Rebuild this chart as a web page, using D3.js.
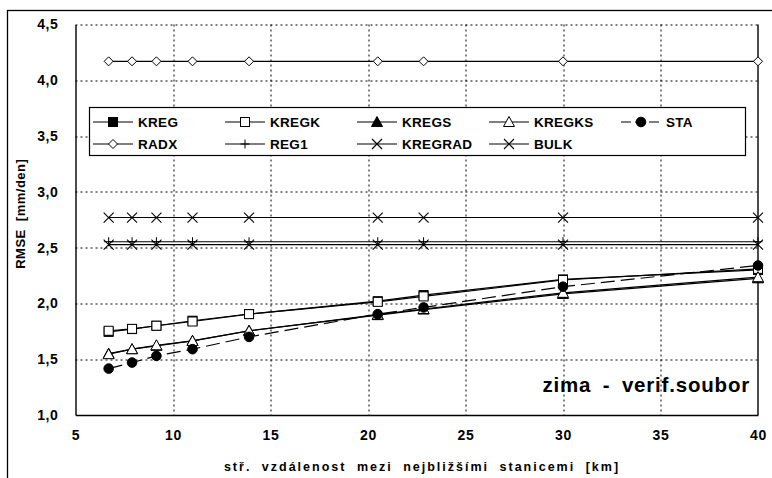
<!DOCTYPE html>
<html>
<head>
<meta charset="utf-8">
<script src="https://cdn.jsdelivr.net/npm/d3@7"></script>
<style>
  body { margin: 0; background: #fff; }
  svg { display: block; font-family: "Liberation Sans", Arial, sans-serif; }
  .tick text { font-weight: bold; }
</style>
</head>
<body>
<script>
// distances (km) and RMSE values
var dist = [6.7, 7.9, 9.15, 11.0, 13.9, 20.5, 22.85, 30, 40];
var kreg    = [1.745, 1.77, 1.80, 1.845, 1.905, 2.02, 2.075, 2.215, 2.30];
var kregk   = [1.755, 1.772, 1.80, 1.838, 1.904, 2.014, 2.063, 2.21, 2.31];
var kregs   = [1.55, 1.59, 1.62, 1.665, 1.755, 1.895, 1.945, 2.085, 2.225];
var kregks  = [1.545, 1.59, 1.625, 1.664, 1.754, 1.90, 1.95, 2.095, 2.235];
var sta     = [1.416, 1.47, 1.53, 1.59, 1.70, 1.904, 1.964, 2.15, 2.34];
var radx    = [4.17, 4.17, 4.17, 4.17, 4.17, 4.17, 4.17, 4.17, 4.17];
var reg1    = [2.553, 2.553, 2.553, 2.553, 2.553, 2.553, 2.553, 2.553, 2.553];
var kregrad = [2.527, 2.527, 2.527, 2.527, 2.527, 2.527, 2.527, 2.527, 2.527];
var bulk    = [2.77, 2.77, 2.77, 2.77, 2.77, 2.77, 2.77, 2.77, 2.77];

var xTicks = [5, 10, 15, 20, 25, 30, 35, 40];
var yTicks = [1.0, 1.5, 2.0, 2.5, 3.0, 3.5, 4.0, 4.5];

var series = [
  {name: "KREG",    values: kreg,    marker: "square",   fill: "#000", dash: null},
  {name: "KREGK",   values: kregk,   marker: "square",   fill: "#fff", dash: null},
  {name: "KREGS",   values: kregs,   marker: "triangle", fill: "#000", dash: null},
  {name: "KREGKS",  values: kregks,  marker: "triangle", fill: "#fff", dash: null},
  {name: "STA",     values: sta,     marker: "circle",   fill: "#000", dash: "14,6"},
  {name: "RADX",    values: radx,    marker: "diamond",  fill: "#fff", dash: null},
  {name: "REG1",    values: reg1,    marker: "plus",     fill: "none", dash: null},
  {name: "KREGRAD", values: kregrad, marker: "x",        fill: "none", dash: null},
  {name: "BULK",    values: bulk,    marker: "x",        fill: "none", dash: null}
];

var W = 772, H = 478;
var margin = {top: 24.5, right: 14, bottom: 63, left: 75.5};
var width = W - margin.left - margin.right,
    height = H - margin.top - margin.bottom;

var svg = d3.select("body").append("svg")
    .attr("width", W)
    .attr("height", H);

// outer chart frame
svg.append("rect")
    .attr("x", 7.5).attr("y", 10.5)
    .attr("width", 820).attr("height", 520)
    .attr("fill", "none").attr("stroke", "#000").attr("stroke-width", 1.3);

var g = svg.append("g")
    .attr("transform", "translate(" + margin.left + "," + margin.top + ")");

var x = d3.scaleLinear().domain([5, 40]).range([0, width]);
var y = d3.scaleLinear().domain([1, 4.5]).range([height, 0]);

// grid (dotted)
g.append("g").selectAll("line")
    .data(yTicks.filter(function(d) { return d > 1; }))
    .enter().append("line")
    .attr("x1", 0).attr("x2", width)
    .attr("y1", function(d) { return Math.round(y(d)) + 0.5; })
    .attr("y2", function(d) { return Math.round(y(d)) + 0.5; })
    .attr("stroke", "#000").attr("stroke-dasharray", "2,3");
g.append("g").selectAll("line")
    .data(xTicks.filter(function(d) { return d > 5 && d < 40; }))
    .enter().append("line")
    .attr("y1", 0).attr("y2", height)
    .attr("x1", function(d) { return Math.round(x(d)) + 0.5; })
    .attr("x2", function(d) { return Math.round(x(d)) + 0.5; })
    .attr("stroke", "#000").attr("stroke-dasharray", "2,3");

// axes
var xAxis = g.append("g")
    .attr("transform", "translate(0," + height + ")")
    .call(d3.axisBottom(x).tickValues(xTicks).tickSize(0).tickPadding(15).tickFormat(d3.format("d")));
var yAxis = g.append("g")
    .call(d3.axisLeft(y).tickValues(yTicks).tickSize(0).tickPadding(17)
      .tickFormat(function(d) { return d3.format(".1f")(d).replace(".", ","); }));
[xAxis, yAxis].forEach(function(a) {
  a.selectAll("text").style("font-size", "14px").style("letter-spacing", "0.6px").attr("fill", "#000");
  a.select(".domain").attr("stroke", "#000").attr("stroke-width", 1.4);
});
// right edge
g.append("line")
    .attr("x1", width).attr("x2", width).attr("y1", 0).attr("y2", height)
    .attr("stroke", "#000").attr("stroke-width", 1.4);

// axis titles
svg.append("text")
    .attr("x", 422).attr("y", 471)
    .attr("text-anchor", "middle")
    .style("font-size", "12.5px").style("font-weight", "bold")
    .style("letter-spacing", "2px").style("word-spacing", "5px")
    .text("stř. vzdálenost mezi nejbližšími stanicemi [km]");
svg.append("text")
    .attr("transform", "translate(25," + (margin.top + height / 2 - 6) + ") rotate(-90)")
    .attr("text-anchor", "middle")
    .style("font-size", "13px").style("font-weight", "bold")
    .style("letter-spacing", "0.5px").style("word-spacing", "4px")
    .text("RMSE [mm/den]");

// marker drawing
function drawMarker(sel, type, fill) {
  if (type == "square") {
    sel.append("rect").attr("x", -4.5).attr("y", -4.5).attr("width", 9).attr("height", 9)
      .attr("fill", fill).attr("stroke", "#000").attr("stroke-width", 1);
  } else if (type == "triangle") {
    sel.append("path").attr("d", "M0,-5.5L5.5,4.5L-5.5,4.5Z")
      .attr("fill", fill).attr("stroke", "#000").attr("stroke-width", 1);
  } else if (type == "circle") {
    sel.append("circle").attr("r", 4.8).attr("fill", fill).attr("stroke", "#000");
  } else if (type == "diamond") {
    sel.append("path").attr("d", "M0,-4.5L4.5,0L0,4.5L-4.5,0Z")
      .attr("fill", fill).attr("stroke", "#000").attr("stroke-width", 1);
  } else if (type == "plus") {
    sel.append("path").attr("d", "M-4.5,0H4.5M0,-4.5V4.5").attr("stroke", "#000").attr("stroke-width", 1);
  } else if (type == "x") {
    sel.append("path").attr("d", "M-5,-5L5,5M-5,5L5,-5").attr("stroke", "#000").attr("stroke-width", 1.1);
  }
}

var line = d3.line()
    .x(function(d) { return x(d[0]); })
    .y(function(d) { return y(d[1]); });

series.forEach(function(s) {
  var pts = dist.map(function(d, i) { return [d, s.values[i]]; });
  var sg = g.append("g").attr("class", "series");
  sg.append("path")
    .attr("d", line(pts))
    .attr("fill", "none")
    .attr("stroke", "#000")
    .attr("stroke-width", 1.2)
    .attr("stroke-dasharray", s.dash);
  sg.selectAll("g.m").data(pts).enter().append("g")
    .attr("class", "m")
    .attr("transform", function(d) { return "translate(" + x(d[0]) + "," + y(d[1]) + ")"; })
    .each(function() { drawMarker(d3.select(this), s.marker, s.fill); });
});

// legend
var legend = svg.append("g");
legend.append("rect")
    .attr("x", 89.5).attr("y", 107.5).attr("width", 656).attr("height", 48)
    .attr("fill", "#fff").attr("stroke", "#000").attr("stroke-width", 1.2);
series.forEach(function(s, i) {
  var col = i % 5, row = Math.floor(i / 5);
  var lx = 93 + col * 132, ly = 122 + row * 22;
  var lg = legend.append("g").attr("transform", "translate(" + lx + "," + ly + ")");
  lg.append("line").attr("x1", 0).attr("x2", 40).attr("y1", 0).attr("y2", 0)
    .attr("stroke", "#000").attr("stroke-width", 1.2).attr("stroke-dasharray", s.dash ? "10,4" : null);
  var mg = lg.append("g").attr("transform", "translate(20,0)");
  drawMarker(mg, s.marker, s.fill);
  lg.append("text").attr("x", 45).attr("y", 5)
    .style("font-size", "13.5px").style("font-weight", "bold")
    .style("letter-spacing", "0.3px")
    .text(s.name);
});

// annotation
svg.append("text")
    .attr("x", 750).attr("y", 392)
    .attr("text-anchor", "end")
    .style("font-size", "20.5px").style("font-weight", "bold")
    .style("letter-spacing", "0.8px").style("word-spacing", "5px")
    .text("zima - verif.soubor");
</script>
</body>
</html>
